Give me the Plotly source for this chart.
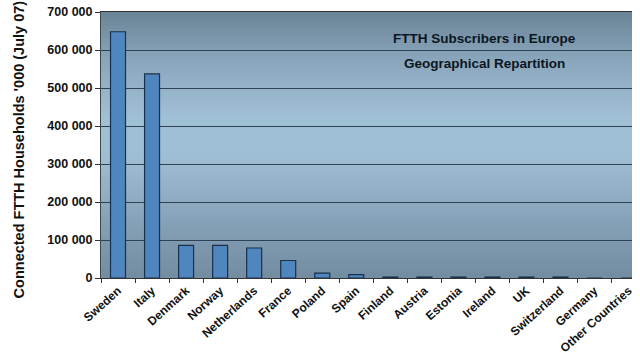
import plotly.graph_objects as go

countries = ["Sweden", "Italy", "Denmark", "Norway", "Netherlands", "France", "Poland",
             "Spain", "Finland", "Austria", "Estonia", "Ireland", "UK", "Switzerland",
             "Germany", "Other Countries"]
subscribers = [648000, 537000, 86000, 86000, 79000, 46000, 13000, 9000,
               2500, 2500, 2500, 2500, 2500, 2500, 0, 0]
y_ticks = [0, 100000, 200000, 300000, 400000, 500000, 600000, 700000]
y_tick_labels = ["0", "100 000", "200 000", "300 000", "400 000", "500 000", "600 000", "700 000"]

fig = go.Figure()
fig.add_trace(go.Bar(
    x=countries, y=subscribers, width=0.44,
    marker=dict(color="#4f86bf", line=dict(color="#1b3148", width=1.2)),
))

# background vertical gradient (top darker grey-blue, middle light blue, bottom darker)
stops = [(0.0, (114, 140, 160)), (0.2, (132, 160, 182)), (0.45, (158, 190, 212)),
         (0.6, (160, 192, 214)), (0.82, (138, 166, 188)), (1.0, (106, 131, 150))]
def col(t):
    for (t0, c0), (t1, c1) in zip(stops[:-1], stops[1:]):
        if t0 <= t <= t1:
            f = (t - t0) / (t1 - t0)
            return "rgb(%d,%d,%d)" % tuple(round(a + (b - a) * f) for a, b in zip(c0, c1))
    return "rgb(%d,%d,%d)" % stops[-1][1]
n = 60
shapes = []
for i in range(n):
    shapes.append(dict(type="rect", xref="paper", yref="paper", x0=0, x1=1,
                       y0=i / n, y1=(i + 1) / n + 0.002, line=dict(width=0),
                       fillcolor=col((i + 0.5) / n), layer="below"))

fig.update_layout(
    width=640, height=360,
    margin=dict(l=101, r=5, t=9, b=81),
    paper_bgcolor="white", plot_bgcolor="#9ab8cf",
    showlegend=False, shapes=shapes,
    font=dict(family="Liberation Sans, Arial", color="#111111"),
    xaxis=dict(range=[-0.5, 15.1], tickangle=-42, tickson="boundaries",
               ticks="outside", ticklen=4, tickcolor="#333333",
               showline=True, linecolor="#333333", linewidth=1, mirror=True,
               showgrid=False,
               tickfont=dict(size=12, family="Liberation Sans, Arial", weight="bold", color="#111111")),
    yaxis=dict(range=[0, 700000], tickvals=y_ticks, ticktext=y_tick_labels,
               ticks="outside", ticklen=5, tickcolor="#333333",
               showline=True, linecolor="#444444", linewidth=1,
               showgrid=True, gridcolor="#2e4255", gridwidth=1, zeroline=False,
               tickfont=dict(size=12.5, family="Liberation Sans, Arial", weight="bold", color="#111111")),
    annotations=[
        dict(text="FTTH Subscribers in Europe", xref="paper", yref="paper",
             x=(487 - 101) / 534, y=(279 - 36) / 270, showarrow=False,
             xanchor="center", yanchor="middle",
             font=dict(size=13.5, weight="bold", color="#0b1622")),
        dict(text="Geographical Repartition", xref="paper", yref="paper",
             x=(487 - 101) / 534, y=(279 - 61) / 270, showarrow=False,
             xanchor="center", yanchor="middle",
             font=dict(size=13.5, weight="bold", color="#0b1622")),
        dict(text="Connected FTTH Households '000 (July 07)", xref="paper", yref="paper",
             x=(18 - 101) / 534, y=(279 - 148) / 270, textangle=-90, showarrow=False,
             xanchor="center", yanchor="middle",
             font=dict(size=14.5, weight="bold", color="#111111")),
    ],
)
fig.write_html("out.html")
